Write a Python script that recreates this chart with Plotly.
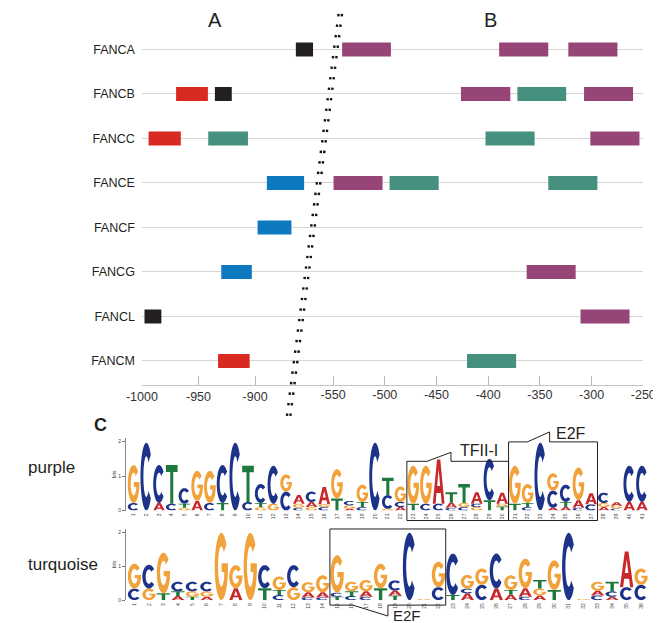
import math
import plotly.graph_objects as go

W, H = 661, 623
FONT = "Liberation Sans, Arial, Helvetica, sans-serif"
INK = "#231f20"


def px(x):
    return x / W


def py(y):
    return 1 - y / H


# ---------------- data: promoter motif map ----------------
genes = ["FANCA", "FANCB", "FANCC", "FANCE", "FANCF", "FANCG", "FANCL", "FANCM"]

left_gene = ["FANCA", "FANCB", "FANCB", "FANCC", "FANCC", "FANCE", "FANCF", "FANCG", "FANCL", "FANCM"]
left_start = [-864.0, -969.8, -935.5, -994.1, -941.4, -889.6, -897.8, -929.9, -997.7, -932.7]
left_end = [-848.8, -941.7, -920.6, -965.6, -906.3, -856.7, -867.9, -902.9, -982.8, -904.8]
left_kind = ["black", "red", "black", "red", "teal", "blue", "blue", "blue", "black", "red"]

right_gene = ["FANCA", "FANCA", "FANCA", "FANCB", "FANCB", "FANCB", "FANCC", "FANCC",
              "FANCE", "FANCE", "FANCE", "FANCG", "FANCL", "FANCM"]
right_start = [-541.3, -389.4, -322.5, -426.4, -371.8, -307.3, -402.6, -301.2,
               -549.6, -495.4, -341.9, -362.8, -310.7, -420.5]
right_end = [-494.1, -341.9, -275.0, -378.6, -324.6, -259.9, -355.1, -253.7,
             -502.2, -447.9, -294.4, -315.4, -263.3, -373.0]
right_kind = ["purple", "purple", "purple", "purple", "teal", "purple", "teal", "purple",
              "purple", "teal", "teal", "purple", "purple", "teal"]

left_ticks = [-1000, -950, -900]
right_ticks = [-550, -500, -450, -400, -350, -300, -250]

KIND_COLORS = {"red": "#d92a22", "black": "#231f20", "teal": "#46907f",
               "blue": "#0b78bf", "purple": "#974576"}

# ---------------- data: sequence logos (bottom -> top, bits) ----------------
purple_logo = [
    [("C", .22), ("G", 1.10)], [("C", 1.97)], [("A", .22), ("C", 1.10)], [("C", .20), ("T", 1.12)],
    [("G", .08), ("T", .12), ("C", .45)], [("A", .28), ("G", .87)], [("C", .22), ("G", .93)],
    [("T", .22), ("C", 1.10)], [("C", 1.97)], [("C", .25), ("T", 1.05)],
    [("G", .10), ("T", .12), ("C", .55)], [("G", .20), ("C", 1.10)], [("C", .55), ("G", .50)],
    [("C", .08), ("G", .12), ("A", .25)], [("G", .10), ("A", .15), ("C", .30)],
    [("C", .10), ("G", .08), ("A", .50)], [("T", .35), ("G", .85)],
    [("A", .05), ("G", .10), ("C", .13)], [("C", .10), ("T", .15), ("G", .50)], [("C", 1.97)],
    [("G", .05), ("C", .40), ("T", .50)], [("A", .10), ("C", .15), ("G", .45)],
    [("T", .20), ("G", 1.10)], [("C", .20), ("G", 1.10)], [("C", .20), ("A", 1.28)],
    [("C", .08), ("A", .15), ("T", .30)], [("C", .10), ("G", .12), ("T", .55)],
    [("G", .10), ("C", .10), ("A", .33)], [("T", .30), ("C", 1.20)],
    [("T", .12), ("G", .08), ("A", .32)], [("T", .20), ("G", 1.10)],
    [("C", .10), ("T", .12), ("G", .55)], [("C", 1.97)], [("A", .08), ("C", .50), ("G", .50)],
    [("A", .10), ("T", .15), ("C", .50)], [("C", .08), ("A", .22), ("G", .95)],
    [("C", .18), ("A", .32)], [("A", .10), ("G", .12), ("C", .30)],
    [("C", .06), ("G", .08), ("A", .10)], [("A", .25), ("C", 1.05)], [("A", .25), ("C", 1.05)],
]

turquoise_logo = [
    [("C", .34), ("G", .73)], [("G", .34), ("C", .70)], [("T", .20), ("G", 1.20)],
    [("A", .12), ("T", .14), ("C", .28)], [("T", .10), ("G", .16), ("C", .28)],
    [("A", .10), ("G", .16), ("C", .28)], [("G", 1.98)], [("A", .35), ("G", .68)], [("G", 1.98)],
    [("T", .35), ("C", .68)], [("C", .15), ("T", .15), ("G", .40)], [("G", .38), ("C", .65)],
    [("C", .08), ("A", .15), ("G", .30)], [("C", .08), ("A", .15), ("G", .50)],
    [("T", .10), ("C", .12), ("G", 1.10)], [("C", .12), ("T", .14), ("G", .28)],
    [("C", .10), ("A", .16), ("G", .33)], [("T", .35), ("G", .72)],
    [("T", .14), ("A", .14), ("C", .30)], [("C", 1.98)], [("G", .03)],
    [("C", .38), ("G", .75)], [("T", .15), ("C", 1.22)], [("A", .20), ("C", .14), ("G", .40)],
    [("C", .45), ("G", .48)], [("A", .34), ("C", 1.03)], [("A", .16), ("T", .14), ("G", .43)],
    [("C", .10), ("A", .25), ("G", .87)], [("A", .14), ("G", .20), ("T", .25)],
    [("T", .30), ("G", .87)], [("C", 1.98)], [("G", .03)],
    [("C", .14), ("A", .14), ("G", .26)], [("A", .10), ("C", .16), ("T", .28)],
    [("C", .38), ("A", 1.05)], [("C", .45), ("G", .48)],
]

# motif boxes on the logos: (first column, last column, label)
purple_boxes = [(23, 30, "TFII-I"), (31, 37, "E2F")]
turquoise_boxes = [(15, 22, "E2F")]

LETTER_COLORS = {"A": "#c8282b", "C": "#1c3389", "G": "#f2a23a", "T": "#1d7a3c"}


# ---------------- glyph outlines (unit box) ----------------
def ell(cx, cy, rx, ry, a0, a1, n=28):
    pts = []
    for i in range(n + 1):
        a = math.radians(a0 + (a1 - a0) * i / n)
        pts.append((cx + rx * math.cos(a), cy + ry * math.sin(a)))
    return pts


GLYPHS = {
    "C": [ell(.5, .5, .5, .5, 40, 320) + ell(.5, .5, .25, .3, 316, 44)],
    "G": [ell(.5, .5, .5, .5, 40, 352) + [(0.995, 0.55), (0.52, 0.55), (0.52, 0.42), (0.72, 0.42)]
          + ell(.5, .5, .25, .3, 330, 44)],
    "T": [[(0, 1), (1, 1), (1, .82), (.63, .82), (.63, 0), (.37, 0), (.37, .82), (0, .82)]],
    "A": [[(0, 0), (.36, 1), (.64, 1), (1, 0), (.76, 0), (.685, .24), (.315, .24), (.24, 0)],
          [(.37, .40), (.63, .40), (.5, .78)]],
}


def glyph_path(letter, col, base, h):
    parts = []
    for sub in GLYPHS[letter]:
        pts = [(col - 0.46 + 0.92 * u, base + h * v) for u, v in sub]
        s = "M " + " L ".join(f"{x:.4f},{y:.4f}" for x, y in pts) + " Z"
        parts.append(s)
    return " ".join(parts)


fig = go.Figure()

# ---------------- top panel bars ----------------
for kind, color in KIND_COLORS.items():
    idx = [i for i, k in enumerate(left_kind) if k == kind]
    if idx:
        fig.add_trace(go.Bar(
            orientation="h", y=[left_gene[i] for i in idx],
            base=[left_start[i] for i in idx],
            x=[left_end[i] - left_start[i] for i in idx],
            width=0.313, marker=dict(color=color, line=dict(width=0)),
            xaxis="x", yaxis="y", showlegend=False, hoverinfo="skip"))
    idx = [i for i, k in enumerate(right_kind) if k == kind]
    if idx:
        fig.add_trace(go.Bar(
            orientation="h", y=[right_gene[i] for i in idx],
            base=[right_start[i] for i in idx],
            x=[right_end[i] - right_start[i] for i in idx],
            width=0.313, marker=dict(color=color, line=dict(width=0)),
            xaxis="x2", yaxis="y", showlegend=False, hoverinfo="skip"))

shapes = []
annotations = []

# axis-break dotted line (two parallel dotted strokes)
for off in (0, 3.6):
    shapes.append(dict(type="line", xref="paper", yref="paper",
                       x0=px(329.0 + off), y0=py(6), x1=px(275.0 + off), y1=py(410),
                       line=dict(color="#111111", width=2.4, dash="2.4px,8.2px")))


# ---------------- logos ----------------
def add_logo(logo, xref, yref):
    for ci, stack in enumerate(logo):
        col = ci + 1
        base = 0.0
        for letter, h in stack:
            shapes.append(dict(type="path", xref=xref, yref=yref,
                               path=glyph_path(letter, col, base, h),
                               fillcolor=LETTER_COLORS[letter], fillrule="evenodd",
                               line=dict(width=0), layer="above"))
            base += h


add_logo(purple_logo, "x3", "y3")
add_logo(turquoise_logo, "x4", "y4")

# invisible traces so the logo axes exist
fig.add_trace(go.Scatter(x=[1], y=[0], xaxis="x3", yaxis="y3", mode="markers",
                         marker=dict(opacity=0), showlegend=False, hoverinfo="skip"))
fig.add_trace(go.Scatter(x=[1], y=[0], xaxis="x4", yaxis="y4", mode="markers",
                         marker=dict(opacity=0), showlegend=False, hoverinfo="skip"))


def callout_top(c0, c1, top, bottom, t0, t1, apex):
    x0, x1 = c0 - 0.5, c1 + 0.5
    return (f"M {x0},{py(top):.5f} L {t0},{py(top):.5f} L {t1},{py(apex):.5f} "
            f"L {t1},{py(top):.5f} L {x1},{py(top):.5f} L {x1},{py(bottom):.5f} "
            f"L {x0},{py(bottom):.5f} Z")


def callout_bottom(c0, c1, top, bottom, t0, t1, apex):
    x0, x1 = c0 - 0.5, c1 + 0.5
    return (f"M {x0},{py(top):.5f} L {x1},{py(top):.5f} L {x1},{py(bottom):.5f} "
            f"L {t1},{py(bottom):.5f} L {t1},{py(apex):.5f} L {t0},{py(bottom):.5f} "
            f"L {x0},{py(bottom):.5f} Z")


(b1c0, b1c1, b1lab), (b2c0, b2c1, b2lab) = purple_boxes
shapes.append(dict(type="path", xref="x3", yref="paper",
                   path=callout_top(b1c0, b1c1, 455.5, 515, 24.09, 25.97, 446.5),
                   line=dict(color=INK, width=1), fillcolor="rgba(0,0,0,0)", layer="above"))
shapes.append(dict(type="path", xref="x3", yref="paper",
                   path=callout_top(b2c0, b2c1, 436, 515, 31.98, 33.73, 426),
                   line=dict(color=INK, width=1), fillcolor="rgba(0,0,0,0)", layer="above"))
t1c0, t1c1, t1lab = turquoise_boxes[0]
shapes.append(dict(type="path", xref="x4", yref="paper",
                   path=callout_bottom(t1c0, t1c1, 523.5, 600, 16.08, 18.51, 611),
                   line=dict(color=INK, width=1), fillcolor="rgba(0,0,0,0)", layer="above"))

annotations += [
    dict(text=b1lab, xref="x3", yref="paper", x=28.15, y=py(445), showarrow=False,
         font=dict(family=FONT, size=16, color=INK), xanchor="center", yanchor="middle"),
    dict(text=b2lab, xref="x3", yref="paper", x=35.4, y=py(427.5), showarrow=False,
         font=dict(family=FONT, size=16, color=INK), xanchor="center", yanchor="middle"),
    dict(text=t1lab, xref="x4", yref="paper", x=19.85, y=py(610), showarrow=False,
         font=dict(family=FONT, size=15, color=INK), xanchor="center", yanchor="middle",
         borderpad=0),
    dict(text="A", xref="paper", yref="paper", x=px(200), y=py(12), showarrow=False,
         font=dict(family=FONT, size=20, color=INK), xanchor="center", yanchor="middle"),
    dict(text="B", xref="paper", yref="paper", x=px(488), y=py(12), showarrow=False,
         font=dict(family=FONT, size=20, color=INK), xanchor="center", yanchor="middle"),
    dict(text="<b>C</b>", xref="paper", yref="paper", x=px(80.5), y=py(419), showarrow=False,
         font=dict(family=FONT, size=18, color=INK), xanchor="center", yanchor="middle"),
    dict(text="purple", xref="paper", yref="paper", x=px(2), y=py(462), showarrow=False,
         font=dict(family=FONT, size=17, color=INK), xanchor="left", yanchor="middle"),
    dict(text="turquoise", xref="paper", yref="paper", x=px(2), y=py(559), showarrow=False,
         font=dict(family=FONT, size=17, color=INK), xanchor="left", yanchor="middle"),
]

AX_TICKFONT = dict(family=FONT, size=12.5, color="#333333")
logo_tick = dict(family=FONT, size=5, color="#444444")

fig.update_layout(
    width=W, height=H, margin=dict(l=0, r=0, t=0, b=0),
    paper_bgcolor="white", plot_bgcolor="rgba(0,0,0,0)",
    barmode="overlay", showlegend=False,
    xaxis=dict(domain=[px(123.3), px(647.7)], range=[-1000, -557.09], anchor="y",
               tickvals=left_ticks, ticktext=[str(v) for v in left_ticks],
               ticks="inside", ticklen=9, tickcolor="#b8b8b8", tickwidth=1,
               showline=True, linecolor="#c4c4c4", linewidth=1,
               showgrid=False, zeroline=False, tickfont=AX_TICKFONT, ticklabelstandoff=0),
    xaxis2=dict(overlaying="x", range=[-734.96, -250], anchor="y", side="bottom",
                tickvals=right_ticks, ticktext=[str(v) for v in right_ticks],
                ticks="inside", ticklen=9, tickcolor="#b8b8b8", tickwidth=1,
                showline=False, showgrid=False, zeroline=False, tickfont=AX_TICKFONT,
                ticklabelstandoff=0),
    yaxis=dict(domain=[py(379), py(20)], type="category", categoryarray=genes,
               range=[7.544, -0.485], anchor="x", showgrid=True, gridcolor="#d6d6d6",
               gridwidth=1, ticks="", showline=False, zeroline=False,
               tickfont=dict(family=FONT, size=12.5, color=INK), ticklabelstandoff=6),
    xaxis3=dict(domain=[px(106.7), px(653)], range=[0.402, 41.5], anchor="y3",
                tickvals=list(range(1, len(purple_logo) + 1)),
                ticktext=[str(i) for i in range(1, len(purple_logo) + 1)],
                tickangle=-90, tickfont=logo_tick, ticks="", showgrid=False,
                zeroline=False, showline=False, ticklabelstandoff=1),
    yaxis3=dict(domain=[py(505), py(505 - 2.1 * 34.65)], range=[0, 2.1], anchor="x3",
                tickvals=[0, 1, 2], tickfont=logo_tick, ticks="outside", ticklen=3,
                tickcolor="#777777", showline=True, linecolor="#888888", linewidth=1,
                showgrid=False, zeroline=False,
                title=dict(text="bits", font=logo_tick, standoff=1)),
    xaxis4=dict(domain=[px(106.7), px(653)], range=[0.414, 36.5], anchor="y4",
                tickvals=list(range(1, len(turquoise_logo) + 1)),
                ticktext=[str(i) for i in range(1, len(turquoise_logo) + 1)],
                tickangle=-90, tickfont=logo_tick, ticks="", showgrid=False,
                zeroline=False, showline=False, ticklabelstandoff=1),
    yaxis4=dict(domain=[py(595), py(595 - 2.1 * 34.15)], range=[0, 2.1], anchor="x4",
                tickvals=[0, 1, 2], tickfont=logo_tick, ticks="outside", ticklen=3,
                tickcolor="#777777", showline=True, linecolor="#888888", linewidth=1,
                showgrid=False, zeroline=False,
                title=dict(text="bits", font=logo_tick, standoff=1)),
    shapes=shapes, annotations=annotations,
)

fig.write_html("out.html")
